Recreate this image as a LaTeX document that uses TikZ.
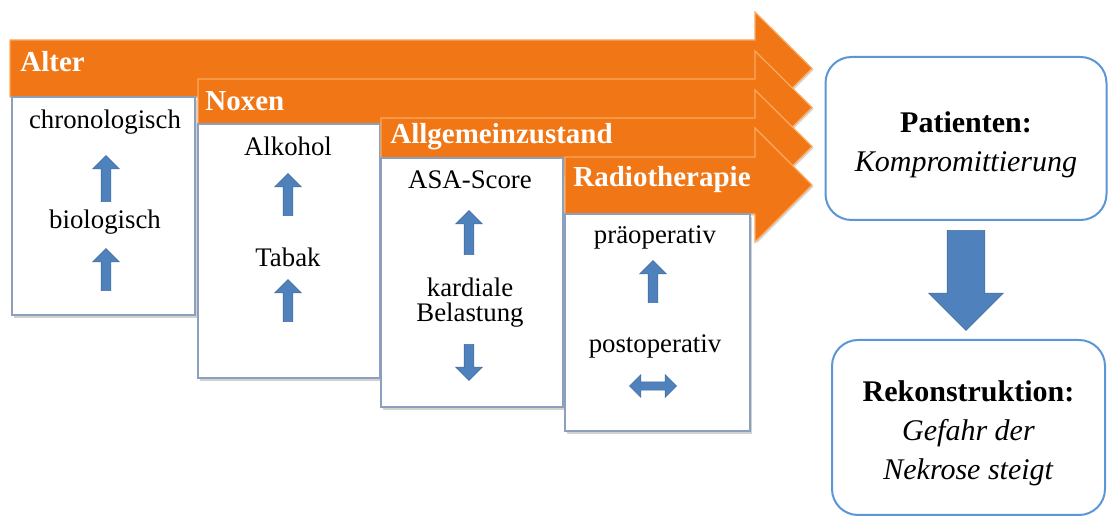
\documentclass[tikz,border=0pt]{standalone}
\usepackage{fontspec}
\setmainfont{Liberation Serif}
\usetikzlibrary{shapes.arrows,shadows}

\definecolor{bandorange}{RGB}{240,118,22}
\definecolor{bandlight}{RGB}{252,170,95}
\definecolor{arrowblue}{RGB}{79,129,189}
\definecolor{boxline}{RGB}{140,160,190}
\definecolor{roundline}{RGB}{91,150,215}

\tikzset{
  band/.style={fill=bandorange, draw=bandlight, line width=0.6pt,
    drop shadow={shadow xshift=0.8pt, shadow yshift=-0.8pt, fill=black!30}},
  factorbox/.style={fill=white, draw=boxline, line width=0.8pt,
    drop shadow={shadow xshift=1pt, shadow yshift=-1.6pt, fill=black!35}},
  bandlabel/.style={anchor=west, inner sep=0pt, text=white,
    font=\fontsize{14.5}{16}\selectfont\bfseries},
  item/.style={align=center, inner sep=0pt, font=\fontsize{13.4}{12.5}\selectfont},
  blockarrow/.style={single arrow, fill=arrowblue, draw=arrowblue!85!black,
    line width=0.3pt, inner xsep=0pt, inner ysep=2.25pt,
    single arrow head extend=4.25pt, minimum height=21pt},
  bothways/.style={double arrow, fill=arrowblue, draw=arrowblue!85!black,
    line width=0.3pt, inner xsep=0pt, inner ysep=1.9pt,
    double arrow head extend=3.6pt, minimum height=23.5pt},
  roundbox/.style={draw=roundline, line width=1pt, fill=white,
    rounded corners=13pt, align=center,
    font=\fontsize{15}{19.5}\selectfont},
}

\begin{document}
\begin{tikzpicture}[x=0.5pt, y=-0.5pt]
\useasboundingbox (0,0) rectangle (1108,517);

% Alter
\draw[band] (10,40) -- (755,40) -- (755,12) -- (812,68.5) -- (755,125) -- (755,97) -- (10,97) -- cycle;
\node[bandlabel] (alter) at (20,62) {Alter};
\draw[factorbox] (12,97) rectangle (195,315);
\node[item] (chrono) at (105,122) {chronologisch};
\node[blockarrow, rotate=90, minimum height=23pt] (alterup1) at (106,181) {};
\node[item] (bio) at (105,222) {biologisch};
\node[blockarrow, rotate=90] (alterup2) at (106,272) {};

% Noxen
\draw[band] (198,79) -- (755,79) -- (755,51) -- (812,107.5) -- (755,164) -- (755,136) -- (198,136) -- cycle;
\node[bandlabel] (noxen) at (205,101) {Noxen};
\draw[factorbox] (198,124) rectangle (380,378);
\node[item] (alkohol) at (288,146) {Alkohol};
\node[blockarrow, rotate=90] (noxenup1) at (288,197) {};
\node[item] (tabak) at (288,257) {Tabak};
\node[blockarrow, rotate=90] (noxenup2) at (288,303) {};

% Allgemeinzustand
\draw[band] (381,118) -- (755,118) -- (755,90) -- (812,146.5) -- (755,203) -- (755,175) -- (381,175) -- cycle;
\node[bandlabel] (allgemein) at (390,137) {Allgemeinzustand};
\draw[factorbox] (381,158) rectangle (563,407);
\node[item] (asa) at (470,180) {ASA-Score};
\node[blockarrow, rotate=90, minimum height=22pt] (asaup) at (469,235) {};
\node[item] (kardial) at (470,303) {kardiale\\Belastung};
\node[blockarrow, rotate=-90, minimum height=18pt] (kardialdown) at (469,360) {};

% Radiotherapie
\draw[band] (565,157) -- (755,157) -- (755,128) -- (812,185) -- (755,242) -- (755,214) -- (565,214) -- cycle;
\node[bandlabel] (radio) at (573,180) {Radiotherapie};
\draw[factorbox] (565,214) rectangle (750,431);
\node[item] (praeop) at (655,237) {präoperativ};
\node[blockarrow, rotate=90] (praeopup) at (653,284) {};
\node[item] (postop) at (655,346) {postoperativ};
\node[bothways] (postopboth) at (653,386) {};

% Ergebnis
\node[roundbox, minimum width=140.5pt, minimum height=81.5pt] (patient) at (966,138.5)
  {\rule{0pt}{16.5pt}\textbf{Patienten:}\\\textit{Kompromittierung}};
\node[roundbox, minimum width=136.5pt, minimum height=87.5pt] (rekon) at (968.5,427.5)
  {\rule{0pt}{16.5pt}\textbf{Rekonstruktion:}\\\textit{Gefahr der}\\\textit{Nekrose steigt}};
\node[blockarrow, rotate=-90, inner ysep=9.25pt, single arrow head extend=9.25pt,
  minimum height=50pt] (folge) at (966,271) {};

\end{tikzpicture}
\end{document}
